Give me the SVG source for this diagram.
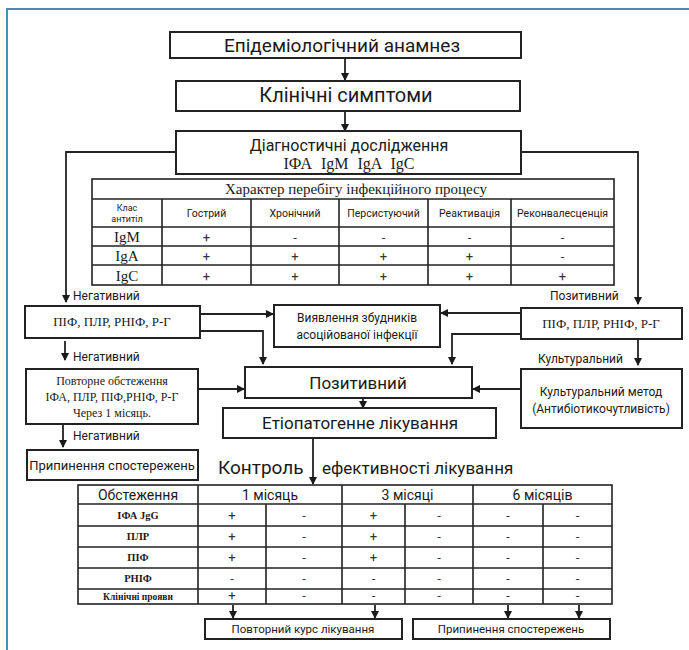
<svg xmlns="http://www.w3.org/2000/svg" width="689" height="650" viewBox="0 0 689 650">
<defs>
<marker id="arr" markerWidth="8" markerHeight="9" refX="7" refY="4" orient="auto" markerUnits="userSpaceOnUse">
<path d="M0,0 L8,4 L0,8 Z" fill="#1a1a1a"/>
</marker>
</defs>
<style>
.box{fill:#fff;stroke:#222;stroke-width:2}
.tb{fill:none;stroke:#222;stroke-width:1.6}
.ln{fill:none;stroke:#222;stroke-width:1.8}
.ar{fill:none;stroke:#222;stroke-width:1.8;marker-end:url(#arr)}
.s{font-family:Roboto,"Liberation Sans",sans-serif;fill:#1a1a1a;text-anchor:middle}
.sl{font-family:Roboto,"Liberation Sans",sans-serif;fill:#1a1a1a}
.r{font-family:"Liberation Serif",serif;fill:#1a1a1a;text-anchor:middle}
.rb{font-family:"Liberation Serif",serif;font-weight:bold;fill:#1a1a1a;text-anchor:middle}
.v{font-family:Roboto,"Liberation Sans",sans-serif;fill:#333;text-anchor:middle;font-size:13px}
</style>
<rect width="689" height="650" fill="#fff"/>
<path d="M7,650 V9 H689" fill="none" stroke="#4a8bb8" stroke-width="2"/>

<g id="connectors">
<path class="ar" d="M345,58 V80"/>
<path class="ar" d="M345,111 V131"/>
<path class="ar" d="M176,152 H66 V302"/>
<path class="ar" d="M521,152 H638 V304"/>
<path class="ar" d="M65,341 V360"/>
<path class="ar" d="M200,314 H273"/>
<path class="ar" d="M200,331 H263 V364"/>
<path class="ar" d="M520,313 H441"/>
<path class="ar" d="M520,334 H452 V364"/>
<path class="ar" d="M638,340 V365"/>
<path class="ar" d="M198,389 H244"/>
<path class="ar" d="M520,389 H473"/>
<path class="ar" d="M363,398 V408"/>
<path class="ar" d="M63,424 V447"/>
<path class="ar" d="M313,438 V484"/>
<path class="ar" d="M233,605 V618"/>
<path class="ar" d="M375,605 V618"/>
<path class="ar" d="M508,605 V618"/>
<path class="ar" d="M579,605 V618"/>
</g>

<g id="labels">
<text class="sl" x="73" y="300" font-size="12">Негативний</text>
<text class="sl" x="550" y="300" font-size="12">Позитивний</text>
<text class="sl" x="73" y="361" font-size="12">Негативний</text>
<text class="sl" x="538" y="363" font-size="12">Культуральний</text>
<text class="sl" x="73" y="440" font-size="12">Негативний</text>
<text class="sl" x="218" y="474" font-size="19">Контроль</text>
<text class="sl" x="322" y="474" font-size="17">ефективності лікування</text>
</g>

<g id="n1"><rect class="box" x="170" y="32" width="351" height="26"/><text class="s" x="342" y="52" font-size="19">Епідеміологічний анамнез</text></g>
<g id="n2"><rect class="box" x="176" y="81" width="344" height="30"/><text class="s" x="346" y="102" font-size="20">Клінічні симптоми</text></g>
<g id="n3"><rect class="box" x="176" y="131" width="345" height="43"/><text class="s" x="349" y="151" font-size="16">Діагностичні дослідження</text><text class="r" x="349" y="169" font-size="16" word-spacing="5">ІФА IgM IgA IgC</text></g>

<g id="table1">
<rect class="tb" x="92" y="179" width="522" height="106" fill="#fff"/>
<path class="tb" d="M92,199 H614 M92,227 H614 M92,246 H614 M92,265 H614 M162,199 V285 M251,199 V285 M339,199 V285 M428,199 V285 M511,199 V285"/>
<text class="r" x="356" y="194" font-size="15">Характер перебігу інфекційного процесу</text>
<text class="s" x="127" y="211" font-size="9">Клас</text>
<text class="s" x="127" y="222" font-size="9">антитіл</text>
<text class="s" x="206.5" y="217" font-size="10.5">Гострий</text>
<text class="s" x="295" y="217" font-size="10.5">Хронічний</text>
<text class="s" x="383.5" y="217" font-size="10.5">Персистуючий</text>
<text class="s" x="469.5" y="217" font-size="10.5">Реактивація</text>
<text class="s" x="562.5" y="217" font-size="10.5">Реконвалесценція</text>
<text class="r" x="127" y="242" font-size="15">IgM</text>
<text class="r" x="127" y="261" font-size="15">IgA</text>
<text class="r" x="127" y="281" font-size="15">IgC</text>
<text class="v" x="206.5" y="242">+</text><text class="v" x="295" y="242">-</text><text class="v" x="383.5" y="242">-</text><text class="v" x="469.5" y="242">-</text><text class="v" x="562.5" y="242">-</text>
<text class="v" x="206.5" y="261">+</text><text class="v" x="295" y="261">+</text><text class="v" x="383.5" y="261">+</text><text class="v" x="469.5" y="261">+</text><text class="v" x="562.5" y="261">-</text>
<text class="v" x="206.5" y="281">+</text><text class="v" x="295" y="281">+</text><text class="v" x="383.5" y="281">+</text><text class="v" x="469.5" y="281">+</text><text class="v" x="562.5" y="281">+</text>
</g>

<g id="n4"><rect class="box" x="25" y="306" width="175" height="32"/><text class="r" x="112" y="326" font-size="13">ПІФ, ПЛР, РНІФ, Р-Г</text></g>
<g id="n5"><rect class="box" x="274" y="305" width="166" height="42"/><text class="s" x="357" y="322" font-size="12">Виявлення збудників</text><text class="s" x="357" y="339" font-size="12">асоційованої інфекції</text></g>
<g id="n6"><rect class="box" x="521" y="308" width="161" height="31"/><text class="r" x="601" y="328" font-size="13">ПІФ, ПЛР, РНІФ, Р-Г</text></g>
<g id="n7"><rect class="box" x="26" y="369" width="172" height="55"/><text class="r" x="112" y="385" font-size="12">Повторне обстеження</text><text class="r" x="112" y="401" font-size="12">ІФА, ПЛР, ПІФ,РНІФ, Р-Г</text><text class="r" x="112" y="417" font-size="12">Через 1 місяць.</text></g>
<g id="n8"><rect class="box" x="245" y="367" width="227" height="31"/><text class="s" x="358" y="389" font-size="17">Позитивний</text></g>
<g id="n9"><rect class="box" x="521" y="369" width="161" height="59"/><text class="s" x="601" y="396" font-size="12">Культуральний метод</text><text class="s" x="601" y="413" font-size="12">(Антибіотикочутливість)</text></g>
<g id="n10"><rect class="box" x="223" y="408" width="273" height="30"/><text class="s" x="360" y="429" font-size="17">Етіопатогенне лікування</text></g>
<g id="n11"><rect class="box" x="27" y="450" width="171" height="30"/><text class="s" x="112" y="470" font-size="13">Припинення спостережень</text></g>

<g id="table2">
<rect class="tb" x="78" y="485" width="534" height="119" fill="#fff"/>
<path class="tb" d="M78,504 H612 M78,526 H612 M78,547 H612 M78,568 H612 M78,589 H612 M198,485 V604 M342,485 V604 M473,485 V604 M266,504 V604 M405,504 V604 M543,504 V604"/>
<text class="s" x="138" y="500" font-size="14">Обстеження</text>
<text class="s" x="270" y="500" font-size="14">1 місяць</text>
<text class="s" x="407.5" y="500" font-size="14">3 місяці</text>
<text class="s" x="542.5" y="500" font-size="14">6 місяців</text>
<text class="rb" x="138" y="519" font-size="10.5">ІФА JgG</text>
<text class="rb" x="138" y="540" font-size="10.5">ПЛР</text>
<text class="rb" x="138" y="561" font-size="10.5">ПІФ</text>
<text class="rb" x="138" y="582" font-size="10.5">РНІФ</text>
<text class="rb" x="138" y="600" font-size="9.5">Клінічні прояви</text>
<text class="v" x="232" y="520">+</text><text class="v" x="304" y="520">-</text><text class="v" x="373.5" y="520">+</text><text class="v" x="439" y="520">-</text><text class="v" x="508" y="520">-</text><text class="v" x="577.5" y="520">-</text>
<text class="v" x="232" y="541">+</text><text class="v" x="304" y="541">-</text><text class="v" x="373.5" y="541">+</text><text class="v" x="439" y="541">-</text><text class="v" x="508" y="541">-</text><text class="v" x="577.5" y="541">-</text>
<text class="v" x="232" y="562">+</text><text class="v" x="304" y="562">-</text><text class="v" x="373.5" y="562">+</text><text class="v" x="439" y="562">-</text><text class="v" x="508" y="562">-</text><text class="v" x="577.5" y="562">-</text>
<text class="v" x="232" y="583">-</text><text class="v" x="304" y="583">-</text><text class="v" x="373.5" y="583">-</text><text class="v" x="439" y="583">-</text><text class="v" x="508" y="583">-</text><text class="v" x="577.5" y="583">-</text>
<text class="v" x="232" y="600" font-size="10">+</text><text class="v" x="304" y="600" font-size="10">-</text><text class="v" x="373.5" y="600" font-size="10">-</text><text class="v" x="439" y="600" font-size="10">-</text><text class="v" x="508" y="600" font-size="10">-</text><text class="v" x="577.5" y="600" font-size="10">-</text>
</g>

<g id="n12"><rect class="box" x="205" y="619" width="197" height="20"/><text class="s" x="303" y="633" font-size="11.5">Повторний курс лікування</text></g>
<g id="n13"><rect class="box" x="413" y="619" width="197" height="20"/><text class="s" x="511" y="633" font-size="11.5">Припинення спостережень</text></g>
</svg>
